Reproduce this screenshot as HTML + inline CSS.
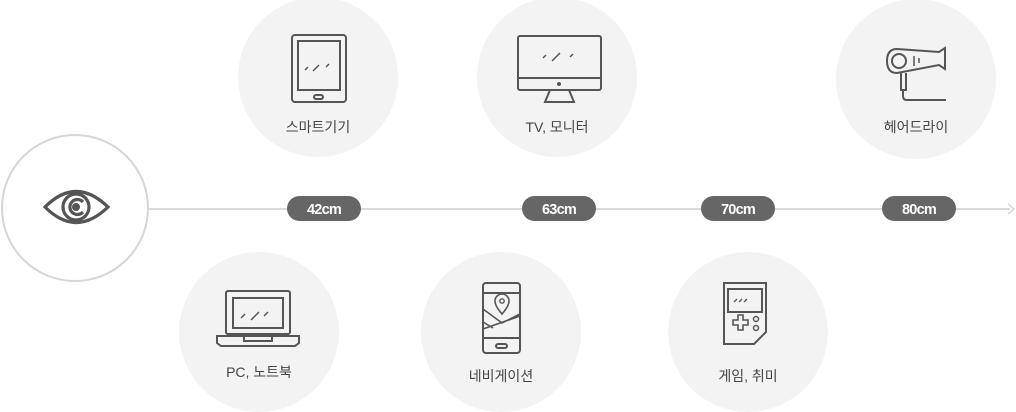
<!DOCTYPE html>
<html><head><meta charset="utf-8"><style>
html,body{margin:0;padding:0;background:#fff;}
svg{display:block}
text{font-family:"Liberation Sans","Noto Sans CJK KR",sans-serif;}
</style></head><body>
<svg width="1016" height="412" viewBox="0 0 1016 412" xmlns="http://www.w3.org/2000/svg">
<line x1="148" y1="209" x2="1010" y2="209" stroke="#d9d9d9" stroke-width="2"/>
<path d="M1008 204 L1014 209 L1008 214" fill="none" stroke="#d9d9d9" stroke-width="1.5"/>
<circle cx="75" cy="208" r="73" fill="#fff" stroke="#d6d6d6" stroke-width="2"/>
<g fill="none" stroke="#555" stroke-width="3.2">
<path d="M45 207 Q76 176 108 207 Q76 238 45 207 Z"/>
<circle cx="76" cy="207" r="13"/>
<path d="M83 202 A7.5 7.5 0 1 0 83 212"/>
</g>
<circle cx="76" cy="207" r="4" fill="#555"/>
<g fill="#f3f3f3">
<circle cx="318" cy="77" r="80"/>
<circle cx="557" cy="77" r="80"/>
<circle cx="916" cy="79" r="80"/>
<circle cx="259" cy="332" r="80"/>
<circle cx="501" cy="332" r="80"/>
<circle cx="748" cy="332" r="80"/>
</g>
<g fill="#666">
<rect x="287" y="196" width="74" height="25" rx="12.5"/>
<rect x="522" y="196" width="74" height="25" rx="12.5"/>
<rect x="701" y="196" width="74" height="25" rx="12.5"/>
<rect x="882" y="196" width="74" height="25" rx="12.5"/>
</g>
<g fill="#fff" font-size="14.5" font-weight="bold" text-anchor="middle" letter-spacing="-0.8">
<text x="324" y="214">42cm</text>
<text x="559" y="214">63cm</text>
<text x="738" y="214">70cm</text>
<text x="919" y="214">80cm</text>
</g>
<g fill="#444" font-size="14" text-anchor="middle">
<text x="318" y="132">스마트기기</text>
<text x="557" y="132">TV, 모니터</text>
<text x="916" y="132">헤어드라이</text>
<text x="259" y="377">PC, 노트북</text>
<text x="501" y="381">네비게이션</text>
<text x="748" y="381">게임, 취미</text>
</g>
<g fill="none" stroke="#555" stroke-width="2">
<rect x="292" y="35" width="54" height="67" rx="3"/>
<rect x="298" y="41" width="42" height="49"/>
<rect x="314" y="95" width="9" height="4" rx="2"/>
<path d="M305 70 l3-3 M313 71 l6-6 M326 67 l3-3" stroke-width="1.5"/>
<rect x="518" y="36" width="83" height="54" rx="2"/>
<line x1="518" y1="78" x2="601" y2="78"/>
<circle cx="559" cy="84" r="1" fill="#555"/>
<path d="M550 90 L545 102 L574 102 L569 90"/>
<path d="M543 58 l3-3 M552 61 l8-8 M570 57 l3-3" stroke-width="1.5"/>
<circle cx="899" cy="61" r="7"/>
<path d="M897 49 Q887 49 887 61 Q887 73 897 73 L939 65 L945 69 L945 48 L939 52 Z"/>
<path d="M901 73 L901 90 L906 90 L906 73"/>
<path d="M903 90 L903 96 Q903 100 907 100 L946 100"/>
<path d="M914 56 v10 M919 58 v5" stroke-width="1.5"/>
<rect x="226" y="291" width="64" height="43" rx="2"/>
<rect x="233" y="298" width="50" height="30"/>
<path d="M217 336 L299 336 L299 343 L295 346 L221 346 L217 343 Z"/>
<rect x="244" y="336" width="28" height="5"/>
<path d="M241 318 l4-4 M251 320 l8-8 M264 316 l4-4" stroke-width="1.5"/>
<rect x="483" y="283" width="37" height="70" rx="3"/>
<line x1="483" y1="293" x2="520" y2="293"/>
<line x1="483" y1="338" x2="520" y2="338"/>
<rect x="496" y="344" width="11" height="4" rx="2"/>
<path d="M502 314 Q495 306 495 301 A7 7 0 0 1 509 301 Q509 306 502 314 Z" stroke-width="1.6"/>
<circle cx="502" cy="301" r="2.2" stroke-width="1.4"/>
<path d="M483 309 L502 323 L520 314 M483 329 L520 316 M483 322 L493 328" stroke-width="1.6"/>
<path d="M724 283 L766 283 L766 332 L754 344 L724 344 Z"/>
<rect x="728" y="289" width="34" height="23"/>
<path d="M734 302 l3-3 M739 302 l3-3 M744 302 l3-3" stroke-width="1.3"/>
<path d="M733 320 h5 v-5 h5 v5 h5 v5 h-5 v5 h-5 v-5 h-5 Z" stroke-width="1.6"/>
<circle cx="756" cy="319" r="2.5" stroke-width="1.5"/>
<circle cx="756" cy="328" r="2.5" stroke-width="1.5"/>
</g>
</svg>
</body></html>
